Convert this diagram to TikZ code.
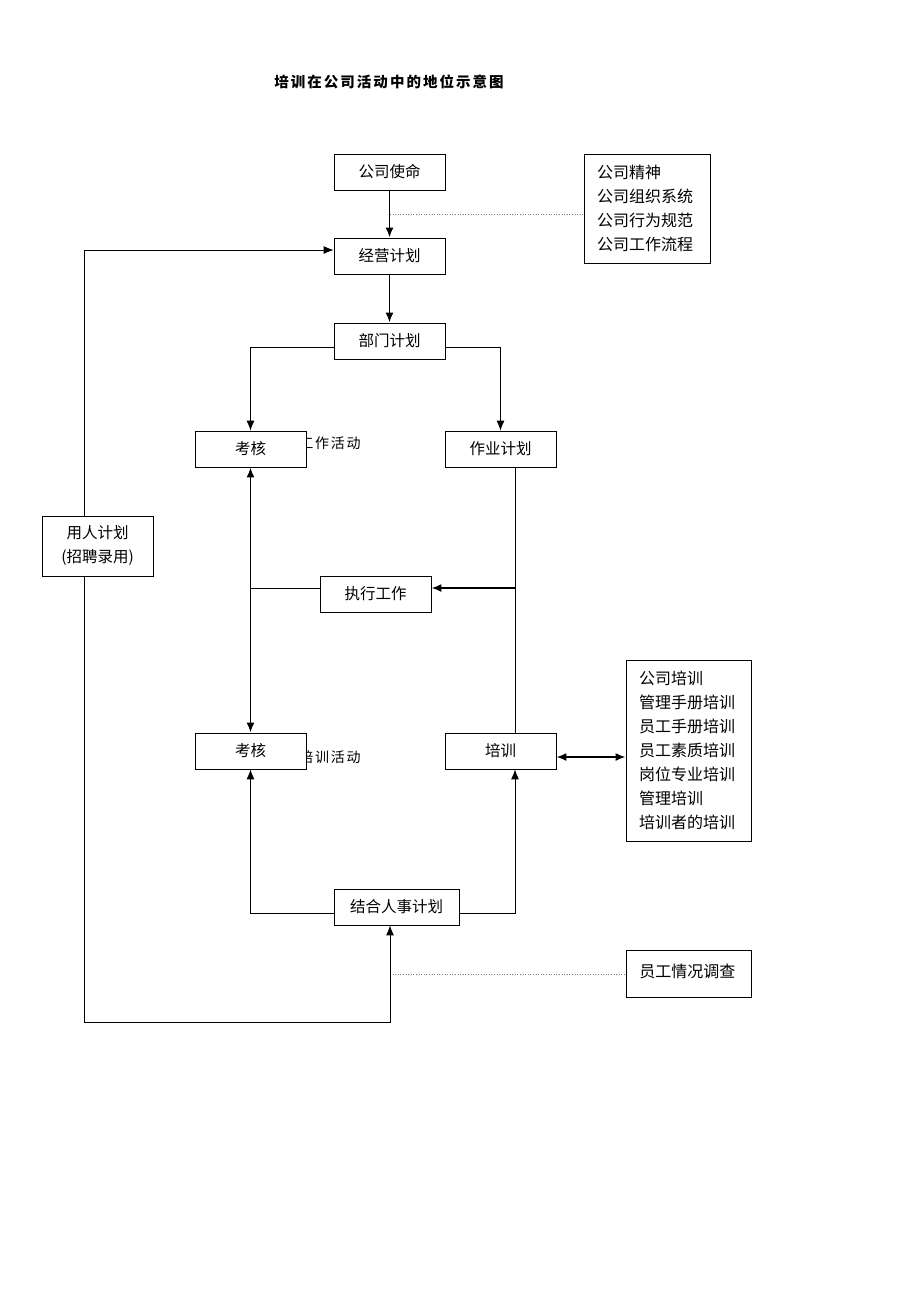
\documentclass[tikz,border=0pt]{standalone}
\usepackage{fontspec}
\setmainfont{Liberation Serif}
\newfontfamily\cjk{Noto Sans CJK SC}
\usetikzlibrary{arrows.meta}

\tikzset{
  box/.style={draw, fill=white, line width=0.8pt, minimum width=111pt, minimum height=36pt, inner sep=0pt, font=\cjk\fontsize{15.5}{18}\selectfont},
  listbox/.style={draw, fill=white, line width=0.8pt, inner xsep=13pt, inner ysep=0pt, align=left, font=\cjk\fontsize{16}{24}\selectfont},
  tag/.style={font=\cjk\fontsize{14}{16}\selectfont\addfontfeatures{LetterSpace=12}},
  arr/.style={line width=1.8pt, -{Latex[length=10pt,width=8pt]}},
  thinarr/.style={line width=0.9pt, -{Latex[length=10pt,width=8pt]}},
  arrs/.style={line width=1.8pt, {Latex[length=10pt,width=8pt]}-{Latex[length=10pt,width=8pt]}},
  ln/.style={line width=0.9pt},
  dotln/.style={line width=0.6pt, dotted, gray}
}

\begin{document}
\begin{tikzpicture}[x=1pt, y=-1pt]
\useasboundingbox (0,0) rectangle (920,1302);

% title
\node[font=\cjk\bfseries\fontsize{14.5}{16}\selectfont\addfontfeatures{LetterSpace=14}] (title) at (389,82) {培训在公司活动中的地位示意图};

% side labels, partly covered by the boxes
\node[tag] (gzhd) at (330,443) {工作活动};
\node[tag] (pxhd) at (330,757) {培训活动};

% main boxes
\node[box] (shiming) at (389.5,172) {公司使命};
\node[box] (jingying) at (389.5,256) {经营计划};
\node[box] (bumen) at (389.5,341) {部门计划};
\node[box] (kaohe1) at (250.5,449) {考核};
\node[box] (zuoye) at (500.5,449) {作业计划};
\node[box, minimum height=60pt, align=center, font=\cjk\fontsize{15.5}{24}\selectfont] (yongren) at (97.5,546) {用人计划\\(招聘录用)};
\node[box] (zhixing) at (375.5,594) {执行工作};
\node[box] (kaohe2) at (250.5,751) {考核};
\node[box] (peixun) at (500.5,751) {培训};
\node[box, minimum width=125pt] (jiehe) at (396.5,907) {结合人事计划};

% lists on the right
\node[listbox, text width=100pt, minimum height=109pt] (jingshen) at (647,208.5)
  {公司精神\\公司组织系统\\公司行为规范\\公司工作流程};
\node[listbox, text width=99pt, minimum height=181pt] (pxlist) at (688.5,750.5)
  {公司培训\\管理手册培训\\员工手册培训\\员工素质培训\\岗位专业培训\\管理培训\\培训者的培训};
\node[listbox, text width=99pt, minimum height=47pt, anchor=north west] (diaocha) at (626,950)
  {\raisebox{6pt}{员工情况调查}};

% helper points
\coordinate (dotA) at (390,214);
\coordinate (dotB) at (390,974);
\coordinate (corner) at (84,1022);

% connectors
\draw[arr] (shiming) -- (jingying);
\draw[dotln] (dotA) -- (dotA -| jingshen.west);
\draw[arr] (jingying) -- (bumen);
\draw[thinarr] ([yshift=-6pt]bumen.west) -| (kaohe1.north);
\draw[thinarr] ([yshift=-6pt]bumen.east) -| (zuoye.north);
\draw[ln] ([xshift=14.5pt]zuoye.south) -- ([xshift=14.5pt]peixun.north);
\draw[arr] ([xshift=14.5pt]zuoye.south |- zhixing.east) ++(0,-6) -- ([yshift=6pt]zhixing.east);
\draw[ln] ([yshift=6pt]zhixing.west) -- ([yshift=6pt]zhixing.west -| kaohe1.south);
\draw[arrs] (kaohe1) -- (kaohe2);
\draw[arrs] ([yshift=-6pt]peixun.east) -- ([yshift=-6pt]peixun.east -| pxlist.west);
\draw[thinarr] ([yshift=-6pt]jiehe.west) -| (kaohe2.south);
\draw[thinarr] ([yshift=-6pt]jiehe.east) -| ([xshift=14.5pt]peixun.south);
\draw[dotln] (dotB) -- (dotB -| diaocha.west);

% staffing loop
\draw[thinarr] ([xshift=-13.5pt]yongren.north) |- ([yshift=6pt]jingying.west);
\draw[thinarr] ([xshift=-13.5pt]yongren.south) -- (corner) -| ([xshift=-6.5pt]jiehe.south);
\end{tikzpicture}
\end{document}
